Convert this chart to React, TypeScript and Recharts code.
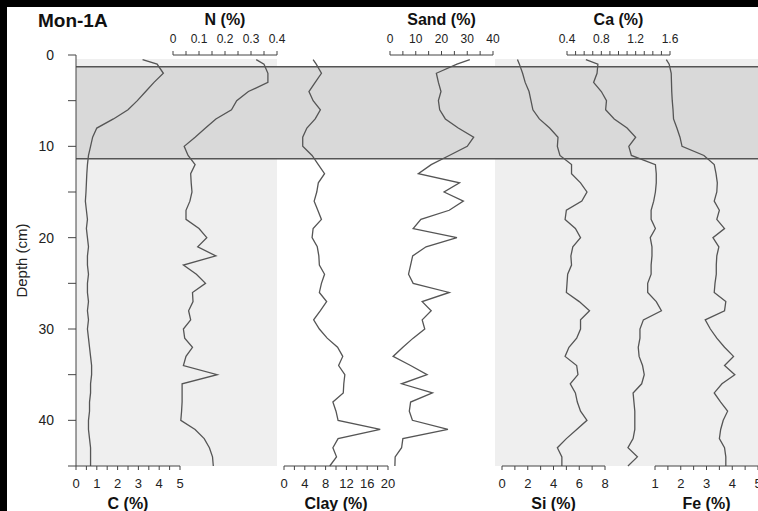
import React from "react";
import {
  ComposedChart,
  Line,
  XAxis,
  YAxis,
  ReferenceArea,
  ReferenceLine,
} from "recharts";

// Mon-1A soil profile

const depth = [
  0.5, 1, 2, 3, 4, 5, 6, 7, 8, 9, 10, 11, 12, 13, 14, 15, 16, 17, 18, 19, 20,
  21, 22, 23, 24, 25, 26, 27, 28, 29, 30, 31, 32, 33, 34, 35, 36, 37, 38, 39,
  40, 41, 42, 43, 44, 45,
];

const carbon = [
  3.2, 3.9, 4.2, 3.75, 3.35, 2.95, 2.5, 1.8, 1.0, 0.8, 0.7, 0.6, 0.55, 0.52,
  0.5, 0.48, 0.45, 0.5, 0.55, 0.5, 0.55, 0.6, 0.55, 0.55, 0.6, 0.55, 0.55, 0.6,
  0.55, 0.6, 0.55, 0.6, 0.65, 0.7, 0.75, 0.75, 0.7, 0.7, 0.65, 0.65, 0.6, 0.6,
  0.65, 0.7, 0.7, 0.7,
];

const nitrogen = [
  0.32, 0.35, 0.365, 0.365, 0.29, 0.245, 0.225, 0.165, 0.125, 0.085, 0.043,
  0.058, 0.085, 0.068, 0.07, 0.073, 0.065, 0.05, 0.05, 0.1, 0.13, 0.095, 0.165,
  0.04, 0.09, 0.125, 0.075, 0.077, 0.06, 0.068, 0.04, 0.045, 0.075, 0.05, 0.04,
  0.17, 0.035, 0.035, 0.035, 0.033, 0.03, 0.085, 0.12, 0.14, 0.152, 0.155,
];

const clay = [
  5.6, 6.2, 7.2, 6.0, 4.8, 5.6, 7.0, 6.0, 4.4, 3.6, 3.6, 5.4, 6.6, 7.8, 6.6,
  6.3, 5.8, 6.5, 7.2, 5.6, 5.4, 6.4, 6.7, 6.8, 7.8, 7.2, 6.8, 8.2, 7.0, 5.7,
  6.8, 8.3, 10.3, 11.3, 10.5, 11.7, 11.5, 11.4, 9.4, 10.0, 10.4, 18.5, 10.4,
  9.4, 10.1, 8.8,
];

const sand = [
  31, 26, 18, 18.8, 19.8, 18.8, 19.3, 21.5, 26.5, 32.5, 30, 23, 16, 11, 27, 21,
  28.5, 23, 12, 9, 26, 14, 8.8, 8, 7.2, 9, 23, 12.5, 16, 12.5, 13.5, 9, 5, 1.2,
  8, 14.4, 4.5, 16.5, 8, 7.5, 8.7, 22.5, 5, 4.5, 2, 1.9,
];

const silicon = [
  1.2, 1.35, 1.6, 1.8, 2.1, 2.25, 2.4, 2.9, 3.7, 4.35, 4.3, 4.5, 5.4, 5.4, 6.1,
  6.6, 6.2, 5.0, 4.9, 5.7, 6.1, 5.5, 5.35, 5.4, 5.1, 5.05, 5.0, 6.0, 6.8, 6.1,
  6.1, 5.8, 5.2, 4.9, 5.8, 5.9, 5.3, 5.7, 5.85, 6.1, 6.6, 5.8, 5.0, 4.3, 4.65,
  4.65,
];

const calcium = [
  0.62, 0.76, 0.75, 0.71, 0.8, 0.86, 0.85, 0.95, 1.1, 1.2, 1.12, 1.15, 1.43,
  1.44, 1.44, 1.43, 1.41, 1.38, 1.38, 1.43, 1.37, 1.39, 1.39, 1.38, 1.38, 1.34,
  1.34, 1.44, 1.5, 1.29, 1.25, 1.25, 1.23, 1.24, 1.28, 1.3, 1.27, 1.17, 1.18,
  1.19, 1.19, 1.19, 1.17, 1.11, 1.22, 1.11,
];

const iron = [
  1.44, 1.55, 1.63, 1.64, 1.65, 1.67, 1.7, 1.72, 1.85, 1.97, 2.05, 2.9, 3.3,
  3.37, 3.42, 3.4, 3.3, 3.5, 3.4, 3.7, 3.25, 3.48, 3.4, 3.38, 3.38, 3.33, 3.3,
  3.75, 3.7, 2.95, 3.15, 3.4, 3.7, 4.05, 3.7, 4.1, 3.6, 3.3, 3.55, 3.82, 3.65,
  3.55, 3.5, 3.7, 3.75, 3.75,
];

// horizon band (cm)
const bandTop = 1.3;
const bandBottom = 11.35;

const depthTicks = [0, 5, 10, 15, 20, 25, 30, 35, 40, 45];
const cTicks = [0, 0.5, 1, 1.5, 2, 2.5, 3, 3.5, 4, 4.5, 5];
const nTicks = [0, 0.05, 0.1, 0.15, 0.2, 0.25, 0.3, 0.35, 0.4];
const clayTicks = [0, 2, 4, 6, 8, 10, 12, 14, 16, 18, 20];
const sandTicks = [0, 5, 10, 15, 20, 25, 30, 35, 40];
const siTicks = [0, 1, 2, 3, 4, 5, 6, 7, 8];
const caTicks = [0.4, 0.5, 0.6, 0.7, 0.8, 0.9, 1, 1.1, 1.2, 1.3, 1.4, 1.5, 1.6];
const feTicks = [1, 1.5, 2, 2.5, 3, 3.5, 4, 4.5, 5];

const rows = depth.map((d, i) => ({
  depth: d,
  c: carbon[i],
  n: nitrogen[i],
  clay: clay[i],
  sand: sand[i],
  si: silicon[i],
  ca: calcium[i],
  fe: iron[i],
}));

const W = 758;
const H = 511;
const PLOT_TOP = 55;
const PLOT_BOTTOM = 466;
const FONT = "'Liberation Sans', Arial, sans-serif";
const LINE = "#555";

const every = (step: number) => (v: number) =>
  Math.abs(v / step - Math.round(v / step)) < 1e-6 ? String(v) : "";

type TrackProps = {
  dataKey: string;
  title: string;
  domain: [number, number];
  ticks: number[];
  step: number;
  x0: number;
  x1: number;
  side: "top" | "bottom";
};

const Track = ({ dataKey, title, domain, ticks, step, x0, x1, side }: TrackProps) => {
  const pad = 24;
  const top = side === "top";
  const axisH = top ? 46 : 45;
  return (
    <div style={{ position: "absolute", left: x0 - pad, top: 0 }}>
      <ComposedChart
        layout="vertical"
        width={x1 - x0 + pad * 2}
        height={H}
        data={rows}
        margin={{
          left: pad,
          right: pad,
          top: top ? PLOT_TOP - axisH : PLOT_TOP,
          bottom: top ? H - PLOT_BOTTOM : H - PLOT_BOTTOM - axisH,
        }}
      >
        <XAxis
          type="number"
          orientation={side}
          domain={domain}
          ticks={ticks}
          interval={0}
          height={axisH}
          tickSize={4}
          tickMargin={top ? 8 : 9}
          tickFormatter={every(step)}
          stroke="#444"
          tick={{ fill: "#222", fontSize: top ? 12 : 13, fontFamily: FONT }}
          label={{
            value: title,
            position: top ? "insideTop" : "insideBottom",
            offset: top ? 5 : 2,
            fill: "#111",
            fontSize: 16,
            fontWeight: "bold",
            fontFamily: FONT,
          }}
        />
        <YAxis type="number" dataKey="depth" domain={[0, 45]} hide />
        <Line
          dataKey={dataKey}
          stroke={LINE}
          strokeWidth={1.3}
          dot={false}
          isAnimationActive={false}
        />
      </ComposedChart>
    </div>
  );
};

const Panel = ({ left, width }: { left: number; width: number }) => (
  <div
    style={{
      position: "absolute",
      left,
      top: 59,
      width,
      height: PLOT_BOTTOM - 59,
      background: "#efefef",
    }}
  />
);

const App: React.FC = () => {
  return (
    <div
      style={{
        position: "absolute",
        left: 0,
        top: 0,
        width: W,
        height: H,
        background: "#000",
        overflow: "hidden",
        fontFamily: FONT,
      }}
    >
      <div
        style={{
          position: "absolute",
          left: 7,
          top: 7,
          width: W - 7,
          height: H - 7,
          background: "#fff",
        }}
      />
      <Panel left={76} width={201} />
      <Panel left={495} width={263} />
      <div style={{ position: "absolute", left: 0, top: 0 }}>
        <ComposedChart
          layout="vertical"
          width={W}
          height={H}
          data={rows}
          margin={{ top: PLOT_TOP, bottom: H - PLOT_BOTTOM, left: 0, right: 0 }}
        >
          <XAxis type="number" domain={[0, 10]} hide />
          <YAxis
            type="number"
            dataKey="depth"
            domain={[0, 45]}
            ticks={depthTicks}
            interval={0}
            width={76}
            tickSize={8}
            tickMargin={14}
            stroke="#444"
            tickFormatter={(v: number) => (v % 10 === 0 ? String(v) : "")}
            tick={{ fill: "#222", fontSize: 14, fontFamily: FONT }}
            label={{
              value: "Depth (cm)",
              angle: -90,
              position: "insideLeft",
              offset: 22,
              fill: "#222",
              fontSize: 15,
              fontFamily: FONT,
              style: { textAnchor: "middle" },
            }}
          />
          <ReferenceArea
            x1={0}
            x2={10}
            y1={bandTop}
            y2={bandBottom}
            fill="#d9d9d9"
            fillOpacity={1}
            stroke="none"
            ifOverflow="visible"
          />
          <ReferenceLine y={bandTop} stroke="#555" strokeWidth={1.5} ifOverflow="visible" />
          <ReferenceLine y={bandBottom} stroke="#555" strokeWidth={1.5} ifOverflow="visible" />
          <Line dataKey="c" stroke="none" dot={false} isAnimationActive={false} />
        </ComposedChart>
      </div>
      <Track dataKey="c" title="C (%)" domain={[0, 5]} ticks={cTicks} step={1} x0={76} x1={180} side="bottom" />
      <Track dataKey="n" title="N (%)" domain={[0, 0.4]} ticks={nTicks} step={0.1} x0={173} x1={277} side="top" />
      <Track dataKey="clay" title="Clay (%)" domain={[0, 20]} ticks={clayTicks} step={4} x0={284} x1={388} side="bottom" />
      <Track dataKey="sand" title="Sand (%)" domain={[0, 40]} ticks={sandTicks} step={10} x0={390} x1={493} side="top" />
      <Track dataKey="si" title="Si (%)" domain={[0, 8]} ticks={siTicks} step={2} x0={502} x1={605} side="bottom" />
      <Track dataKey="ca" title="Ca (%)" domain={[0.4, 1.6]} ticks={caTicks} step={0.4} x0={567} x1={670} side="top" />
      <Track dataKey="fe" title="Fe (%)" domain={[1, 5]} ticks={feTicks} step={1} x0={655} x1={758} side="bottom" />
      <div
        style={{
          position: "absolute",
          left: 38,
          top: 10,
          fontSize: 19,
          fontWeight: "bold",
          color: "#111",
        }}
      >
        Mon-1A
      </div>
    </div>
  );
};

export default App;
